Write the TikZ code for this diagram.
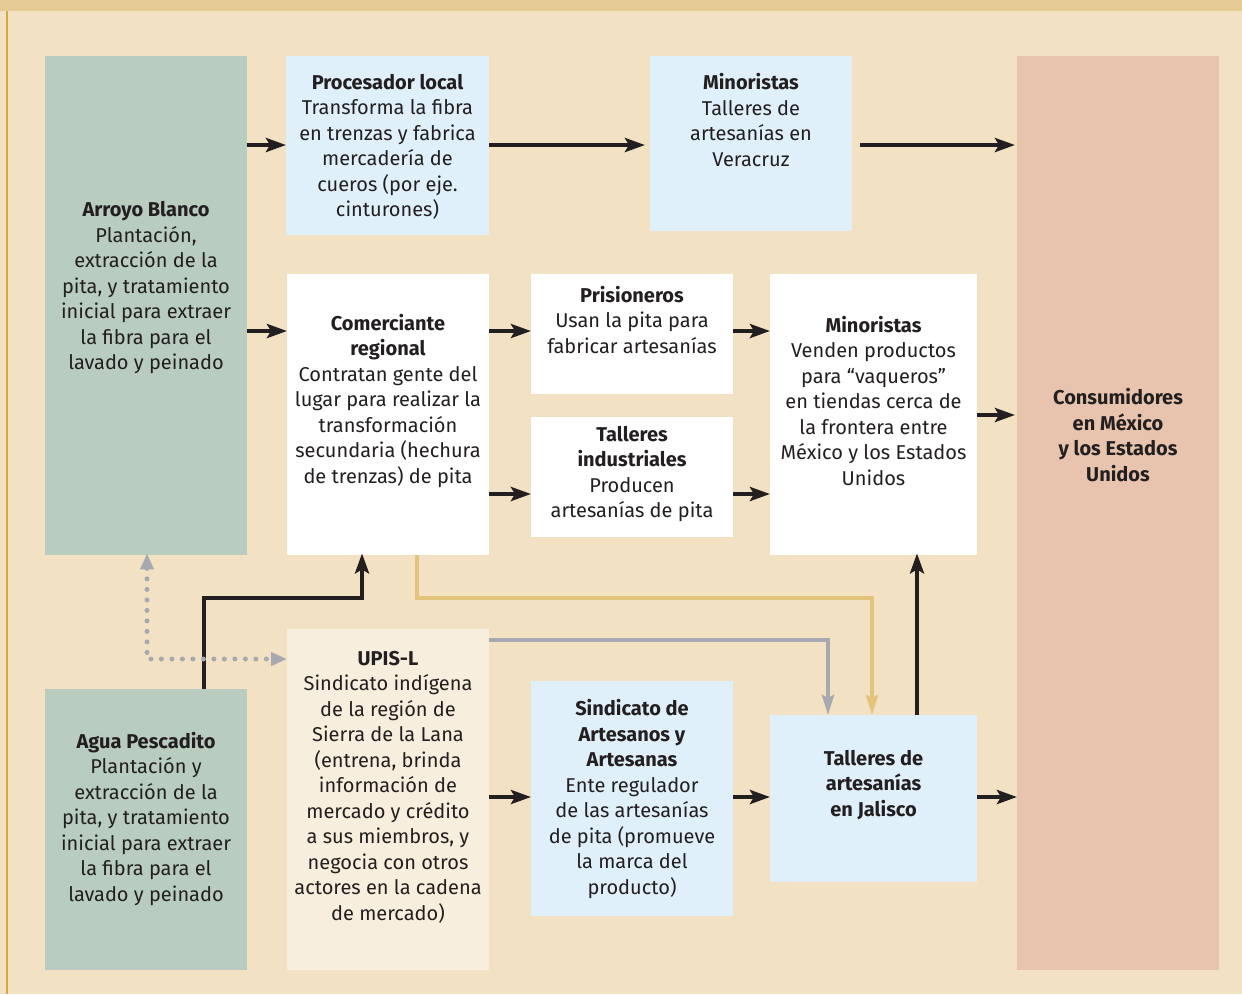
\documentclass[tikz,border=0pt]{standalone}
\usepackage{fontspec}
\setmainfont{Fira Sans}
\usetikzlibrary{arrows.meta}
\definecolor{bg}{HTML}{F2E2C3}
\definecolor{hdr}{HTML}{E6CC94}
\definecolor{edge}{HTML}{D4AA3A}
\definecolor{gbx}{HTML}{B8CCBF}
\definecolor{lbx}{HTML}{DFF0FA}
\definecolor{cbx}{HTML}{F8EEDD}
\definecolor{pbx}{HTML}{E8C4AE}
\definecolor{ink}{HTML}{231F20}
\definecolor{grayl}{HTML}{A7A9B0}
\definecolor{yel}{HTML}{E4C47C}
\tikzset{
  bx/.style={anchor=north west, inner sep=0pt, draw=none},
  txt/.style={align=center, font=\fontsize{20}{25.5}\selectfont, text=ink, inner sep=0pt},
  arr/.style={line width=4pt, draw=ink, -{Stealth[length=20pt,width=14pt,inset=4pt]}},
  garr/.style={line width=4pt, draw=grayl, -{Stealth[length=20pt,width=12pt,inset=3pt]}},
  yarr/.style={line width=4pt, draw=yel, -{Stealth[length=20pt,width=12pt,inset=3pt]}},
  darr/.style={line width=5pt, draw=grayl, line cap=round, dash pattern=on 0pt off 10.5pt,
     {Triangle[length=16pt,width=13pt,line cap=butt]}-{Triangle[length=16pt,width=13pt,line cap=butt]}},
}
\begin{document}
\begin{tikzpicture}[x=1pt,y=-1pt]
\useasboundingbox (0,0) rectangle (1242,994);
\fill[bg] (0,0) rectangle (1242,994);
\fill[hdr] (0,0) rectangle (1242,11);
\draw[edge, line width=1.5pt] (7,11) -- (7,994);
% boxes
\node[bx, fill=gbx, minimum width=202pt, minimum height=499pt] (ab) at (45,56) {};
\node[bx, fill=lbx, minimum width=203pt, minimum height=179pt] (proc) at (286,56) {};
\node[bx, fill=lbx, minimum width=202pt, minimum height=175pt] (mint) at (650,56) {};
\node[bx, fill=pbx, minimum width=202pt, minimum height=914pt] (cons) at (1017,56) {};
\node[bx, fill=white, minimum width=202pt, minimum height=281pt] (com) at (287,274) {};
\node[bx, fill=white, minimum width=202pt, minimum height=120pt] (pris) at (531,274) {};
\node[bx, fill=white, minimum width=202pt, minimum height=120pt] (tind) at (531,417) {};
\node[bx, fill=white, minimum width=207pt, minimum height=281pt] (minm) at (770,274) {};
\node[bx, fill=gbx, minimum width=202pt, minimum height=281pt] (ap) at (45,689) {};
\node[bx, fill=cbx, minimum width=202pt, minimum height=341pt] (upis) at (287,629) {};
\node[bx, fill=lbx, minimum width=202pt, minimum height=235pt] (sind) at (531,681) {};
\node[bx, fill=lbx, minimum width=207pt, minimum height=167pt] (jal) at (770,715) {};
% texts
\node[txt] (t1) at (146,288) {\textbf{Arroyo Blanco}\\Plantación,\\extracción de la\\pita, y tratamiento\\inicial para extraer\\la fibra para el\\lavado y peinado};
\node[txt] (t2) at (387.5,147) {\textbf{Procesador local}\\Transforma la fibra\\en trenzas y fabrica\\mercadería de\\cueros (por eje.\\cinturones)};
\node[txt] (t3) at (751,120) {\textbf{Minoristas}\\Talleres de\\artesanías en\\Veracruz};
\node[txt] (t4) at (388,401) {\textbf{Comerciante}\\\textbf{regional}\\Contratan gente del\\lugar para realizar la\\transformación\\secundaria (hechura\\de trenzas) de pita};
\node[txt] (t5) at (632,320) {\textbf{Prisioneros}\\Usan la pita para\\fabricar artesanías};
\node[txt] (t6) at (632,474) {\textbf{Talleres}\\\textbf{industriales}\\Producen\\artesanías de pita};
\node[txt] (t7) at (873.5,401) {\textbf{Minoristas}\\Venden productos\\para “vaqueros”\\en tiendas cerca de\\la frontera entre\\México y los Estados\\Unidos};
\node[txt] (t8) at (1118,435) {\textbf{Consumidores}\\\textbf{en México}\\\textbf{y los Estados}\\\textbf{Unidos}};
\node[txt] (t9) at (146,819) {\textbf{Agua Pescadito}\\Plantación y\\extracción de la\\pita, y tratamiento\\inicial para extraer\\la fibra para el\\lavado y peinado};
\node[txt] (t10) at (388,787) {\textbf{UPIS-L}\\Sindicato indígena\\de la región de\\Sierra de la Lana\\(entrena, brinda\\información de\\mercado y crédito\\a sus miembros, y\\negocia con otros\\actores en la cadena\\de mercado)};
\node[txt] (t11) at (632,799) {\textbf{Sindicato de}\\\textbf{Artesanos y}\\\textbf{Artesanas}\\Ente regulador\\de las artesanías\\de pita (promueve\\la marca del\\producto)};
\node[txt] (t12) at (873.5,785) {\textbf{Talleres de}\\\textbf{artesanías}\\\textbf{en Jalisco}};
% coordinates
\coordinate (r1) at (0,145);
\coordinate (r2) at (0,331);
\coordinate (r3) at (0,494);
\coordinate (r4) at (0,415);
\coordinate (r5) at (0,797);
% arrows
\draw[arr] (ab.east |- r1) -- (proc.west |- r1);
\draw[arr] (proc.east |- r1) -- ([xshift=-5pt]mint.west |- r1);
\draw[arr] ([xshift=8pt]mint.east |- r1) -- ([xshift=-2pt]cons.west |- r1);
\draw[arr] (ab.east |- r2) -- (com.west |- r2);
\draw[arr] (com.east |- r2) -- (pris.west |- r2);
\draw[arr] (com.east |- r3) -- (tind.west |- r3);
\draw[arr] (pris.east |- r2) -- (minm.west |- r2);
\draw[arr] (tind.east |- r3) -- (minm.west |- r3);
\draw[arr] (minm.east |- r4) -- ([xshift=-2pt]cons.west |- r4);
\draw[arr] (upis.east |- r5) -- (sind.west |- r5);
\draw[arr] (sind.east |- r5) -- (jal.west |- r5);
\draw[arr] (jal.east |- r5) -- (cons.west |- r5);
\draw[arr] (jal.north -| 917,0) -- ([yshift=2pt]minm.south -| 917,0);
\draw[arr] (ap.north -| 204,0) -- (204,598) -- (362,598) -- ([yshift=2pt]com.south -| 362,0);
\draw[yarr] (com.south -| 417,0) -- (417,598) -- (872,598) -- (jal.north -| 872,0);
\draw[garr] (upis.east |- 0,640) -- (828,640) -- (jal.north -| 828,0);
\draw[darr] ([yshift=2pt]ab.south -| 147,0) -- (147,659) -- (upis.west |- 0,659);
\end{tikzpicture}
\end{document}
